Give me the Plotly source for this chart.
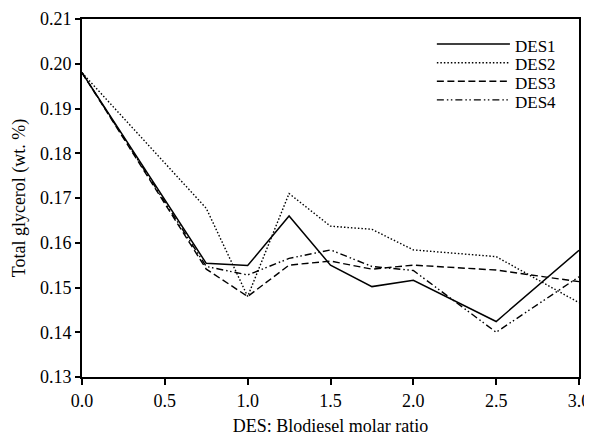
import plotly.graph_objects as go

x_vals = [0.0, 0.75, 1.0, 1.25, 1.5, 1.75, 2.0, 2.5, 3.0]
des1 = [0.198, 0.1554, 0.1549, 0.1660, 0.1550, 0.1502, 0.1516, 0.1424, 0.1583]
des2 = [0.198, 0.1677, 0.1480, 0.1710, 0.1637, 0.1630, 0.1584, 0.1569, 0.1466]
des3 = [0.198, 0.1541, 0.1480, 0.1550, 0.1559, 0.1541, 0.1550, 0.1539, 0.1513]
des4 = [0.198, 0.1547, 0.1528, 0.1565, 0.1584, 0.1547, 0.1538, 0.1400, 0.1524]
names = ["DES1", "DES2", "DES3", "DES4"]
x_ticks = [0.0, 0.5, 1.0, 1.5, 2.0, 2.5, 3.0]
y_ticks = [0.13, 0.14, 0.15, 0.16, 0.17, 0.18, 0.19, 0.20, 0.21]

FONT = "Times New Roman, Liberation Serif, serif"
series = [des1, des2, des3, des4]
dashes = ["solid", "1.5px,2px", "7px,3.5px", "7px,3px,1.5px,2.5px,1.5px,3px"]
widths = [1.5, 1.4, 1.4, 1.4]

fig = go.Figure()
for name, ys, d, w in zip(names, series, dashes, widths):
    fig.add_trace(go.Scatter(x=x_vals, y=ys, mode="lines", name=name,
                             line=dict(color="black", dash=d, width=w),
                             showlegend=False))

# custom legend (long line samples)
leg_y = [0.930, 0.878, 0.826, 0.774]
for name, d, w, yy in zip(names, dashes, widths, leg_y):
    fig.add_shape(type="line", xref="paper", yref="paper", x0=0.714, x1=0.861,
                  y0=yy, y1=yy, line=dict(color="black", dash=d, width=w))
    fig.add_annotation(xref="paper", yref="paper", x=0.867, y=yy - 0.006, text=name,
                       showarrow=False, xanchor="left", yanchor="middle",
                       font=dict(family=FONT, size=17, color="black"))

fig.update_layout(
    width=584, height=428,
    margin=dict(l=74, r=13, t=11, b=59),
    plot_bgcolor="white", paper_bgcolor="white",
    font=dict(family=FONT, size=18, color="black"),
)
fig.update_xaxes(range=[0, 3.0], tickvals=x_ticks, ticktext=[f"{v:.1f}" for v in x_ticks],
                 showgrid=False, zeroline=False, showline=True, linecolor="black", linewidth=2,
                 mirror=True, ticks="outside", ticklen=6, tickwidth=2, tickcolor="black",
                 tickfont=dict(family=FONT, size=18), automargin=False,
                 title=dict(text="DES: Blodiesel molar ratio", standoff=14,
                            font=dict(family=FONT, size=18)))
fig.update_yaxes(range=[0.13, 0.21], tickvals=y_ticks, ticktext=[f"{v:.2f}" for v in y_ticks],
                 showgrid=False, zeroline=False, showline=True, linecolor="black", linewidth=2,
                 mirror=True, ticks="outside", ticklen=5, tickwidth=2, tickcolor="black",
                 tickfont=dict(family=FONT, size=18), automargin=False,
                 title=dict(text="Total glycerol (wt. %)", standoff=10,
                            font=dict(family=FONT, size=18)))

fig.write_html("out.html")
